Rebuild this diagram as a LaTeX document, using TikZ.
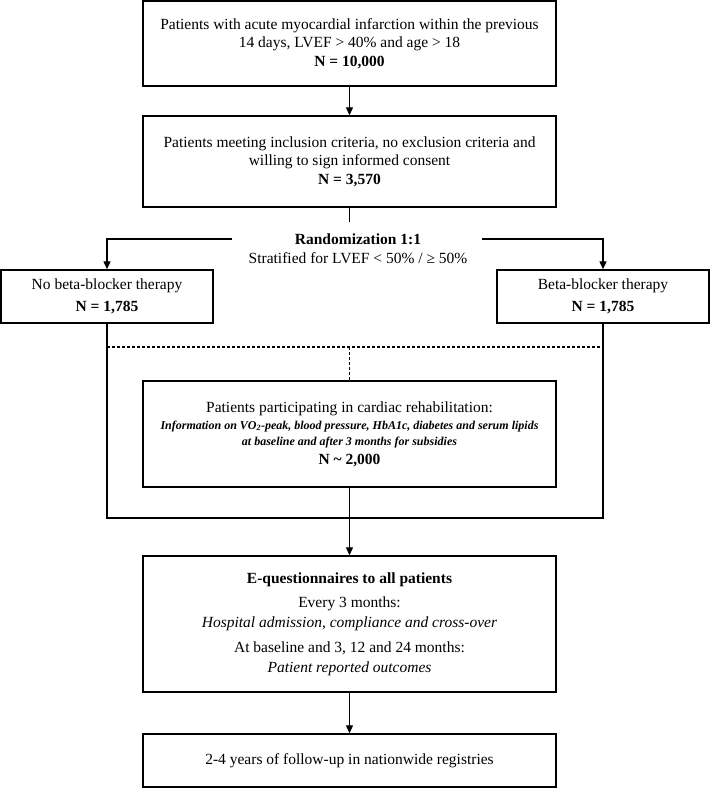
\documentclass[tikz,border=0pt]{standalone}
\usepackage{fontspec}
\setmainfont{Liberation Serif}
\usetikzlibrary{arrows.meta}
\newcommand\smbi[1]{{\fontsize{12}{15}\selectfont\bfseries\itshape #1}}
\begin{document}
\begin{tikzpicture}[x=1pt,y=-1pt,
  box/.style={draw, line width=1.4pt, inner sep=0pt, align=center, font=\fontsize{15.5}{20}\selectfont},
  tight/.style={font=\fontsize{15.5}{18.5}\selectfont},
  txt/.style={inner sep=0pt, align=center, font=\fontsize{15.5}{19}\selectfont},
  conn/.style={line width=1.1pt},
  arr/.style={conn, -{Triangle[length=8pt,width=7pt]}},
  dsh/.style={line width=1.1pt, dash pattern=on 3pt off 2pt}]
\useasboundingbox (0,0) rectangle (710,788);
% boxes
\node[box, tight, minimum width=413pt, minimum height=85pt] (b1) at (349.5,43.5)
  {Patients with acute myocardial infarction within the previous\\
   14 days, LVEF > 40\% and age > 18\\ \textbf{N = 10,000}};
\node[box, tight, minimum width=413pt, minimum height=91pt] (b2) at (349.5,161.5)
  {Patients meeting inclusion criteria, no exclusion criteria and\\
   willing to sign informed consent\\ \textbf{N = 3,570}};
\node[txt] (rand) at (358,248.5)
  {\textbf{Randomization 1:1}\\ Stratified for LVEF < 50\% / ≥ 50\%};
\node[box, minimum width=212pt, minimum height=53pt] (nb) at (107,296.5)
  {No beta-blocker therapy\\[2pt] \textbf{N = 1,785}};
\node[box, minimum width=212pt, minimum height=53pt] (bb) at (603,296.5)
  {Beta-blocker therapy\\[2pt] \textbf{N = 1,785}};
\node[box, minimum width=413pt, minimum height=106pt] (rehab) at (349.5,434)
  {Patients participating in cardiac rehabilitation:\\[-3pt]
   \smbi{Information on VO\textsubscript{2}-peak, blood pressure, HbA1c, diabetes and serum lipids}\\[-4pt]
   \smbi{at baseline and after 3 months for subsidies}\\[-1pt]
   \textbf{N \textasciitilde{} 2,000}};
\node[box, minimum width=413pt, minimum height=136pt] (eq) at (349.5,624)
  {\textbf{E-questionnaires to all patients}\\[4pt]
   Every 3 months:\\ \textit{Hospital admission, compliance and cross-over}\\[5pt]
   At baseline and 3, 12 and 24 months:\\ \textit{Patient reported outcomes}};
\node[box, minimum width=413pt, minimum height=53pt] (fin) at (349.5,760.5)
  {2-4 years of follow-up in nationwide registries};
% coordinates
\coordinate (rtop) at (349.5,222);
\coordinate (rl) at (232,239);
\coordinate (rr) at (482,239);
\coordinate (dl) at (107,347);
\coordinate (dr) at (603,347);
\coordinate (dmid) at (349.5,347);
\coordinate (join) at (349.5,518);
% connectors
\draw[arr] (b1) -- (b2);
\draw[conn] (b2) -- (rtop);
\draw[arr] (rl) -| (nb);
\draw[arr] (rr) -| (bb);
\draw[conn] (nb) |- (join) -| (bb);
\draw[dsh] (dl) -- (dr);
\draw[dsh] (dmid) -- (rehab);
\draw[conn] (rehab) -- (join);
\draw[arr] (join) -- (eq);
\draw[arr] (eq) -- (fin);
\end{tikzpicture}
\end{document}
